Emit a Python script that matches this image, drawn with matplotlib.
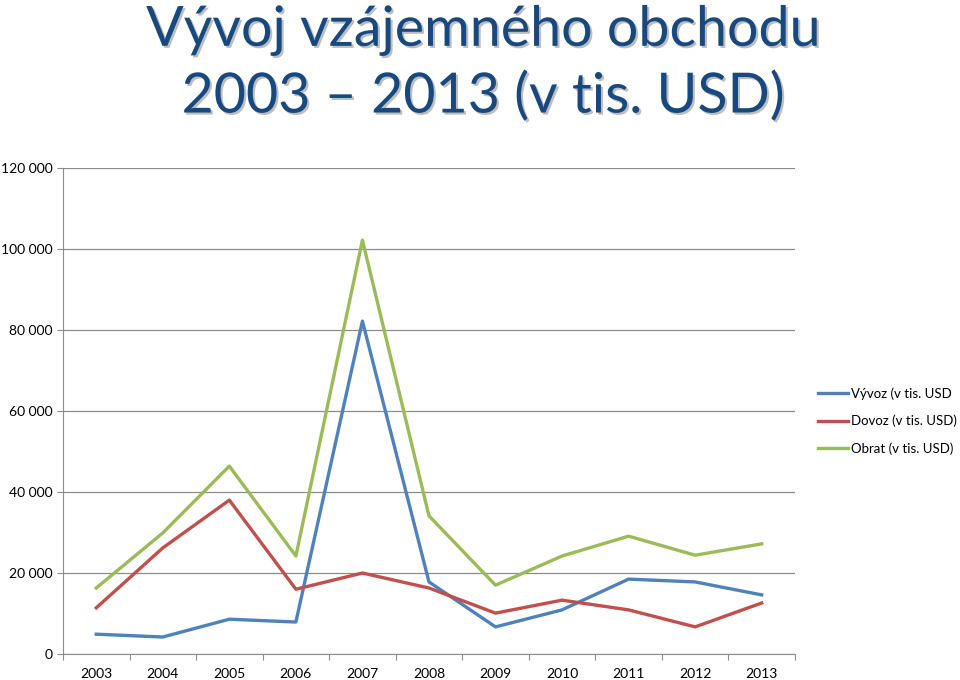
import matplotlib
matplotlib.use('Agg')
import matplotlib.pyplot as plt
import matplotlib.patheffects as pe
from matplotlib.ticker import FuncFormatter, FixedLocator

# Data (thousands of USD)
years = ['2003', '2004', '2005', '2006', '2007', '2008', '2009', '2010', '2011', '2012', '2013']
vyvoz = [4900, 4200, 8600, 7900, 82200, 17800, 6700, 10900, 18500, 17800, 14600]
dovoz = [11400, 26200, 38000, 16000, 20000, 16300, 10100, 13300, 10900, 6700, 12600]
obrat = [16300, 29900, 46400, 24200, 102200, 34100, 17000, 24200, 29100, 24400, 27200]

plt.rcParams['font.family'] = ['Lato', 'DejaVu Sans']

fig = plt.figure(figsize=(9.6, 6.8), dpi=100)
ax = fig.add_axes([0.0656, 0.0382, 0.7625, 0.7147])

x = range(len(years))
ax.plot(x, vyvoz, color='#4F81BD', lw=2.4, label='Vývoz (v tis. USD')
ax.plot(x, dovoz, color='#C0504D', lw=2.4, label='Dovoz (v tis. USD)')
ax.plot(x, obrat, color='#9BBB59', lw=2.4, label='Obrat (v tis. USD)')

ax.set_xlim(-0.5, len(years) - 0.5)
ax.set_ylim(0, 120000)
ax.set_yticks(range(0, 120001, 20000))
ax.yaxis.set_major_formatter(FuncFormatter(lambda v, p: f'{int(v):,}'.replace(',', ' ')))
ax.grid(axis='y', color='#8c8c8c', lw=0.9)
ax.set_axisbelow(True)

# category labels centred, tick marks between categories
ax.xaxis.set_major_locator(FixedLocator([i - 0.5 for i in range(len(years) + 1)]))
ax.xaxis.set_minor_locator(FixedLocator(list(x)))
ax.set_xticklabels([])
ax.set_xticklabels(years, minor=True)
ax.tick_params(axis='x', which='major', length=4.5, color='#8c8c8c', direction='out')
ax.tick_params(axis='x', which='minor', length=0, labelsize=10, pad=10)
ax.tick_params(axis='y', length=4.5, color='#8c8c8c', labelsize=10, pad=3)

for s in ['top', 'right']:
    ax.spines[s].set_visible(False)
for s in ['left', 'bottom']:
    ax.spines[s].set_color('#8c8c8c')

leg = ax.legend(loc='center left', bbox_to_anchor=(818 / 960, 1 - 421 / 680),
                bbox_transform=fig.transFigure, frameon=False, borderpad=0, borderaxespad=0,
                fontsize=9.5, handlelength=2.3, handletextpad=0.2, labelspacing=1.15)

shadow = [pe.withSimplePatchShadow(offset=(1.5, -1.5), shadow_rgbFace='#7f7f7f', alpha=0.5)]
fig.text(0.503, 0.955, 'Vývoj vzájemného obchodu', ha='center', va='center',
         fontsize=40, color='#17497F', path_effects=shadow)
fig.text(0.503, 0.858, '2003 – 2013 (v tis. USD)', ha='center', va='center',
         fontsize=40, color='#17497F', path_effects=shadow)

fig.savefig('out.png', dpi=100)
